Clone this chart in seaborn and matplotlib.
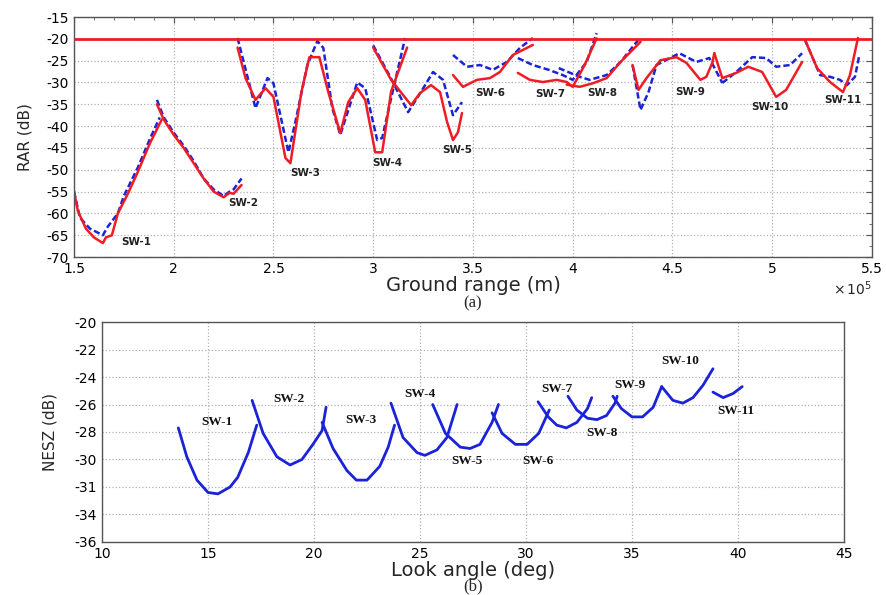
import numpy as np
import pandas as pd
import matplotlib
matplotlib.use("Agg")
import matplotlib.pyplot as plt
import seaborn as sns
from matplotlib.ticker import FuncFormatter, AutoMinorLocator

# ---- panel (a): RAR vs ground range (x in units of 1e5 m) ----
rar_red = {
    "SW-1": ([1.50, 1.52, 1.56, 1.60, 1.645, 1.66, 1.69, 1.72, 1.77, 1.82, 1.88, 1.94],
             [-55, -59.5, -63.5, -65.5, -66.8, -65.5, -65, -60, -55.5, -50.5, -44, -38.5]),
    "SW-2": ([1.916, 1.95, 2.0, 2.05, 2.10, 2.15, 2.20, 2.25, 2.28, 2.30, 2.34],
             [-35, -38.5, -42, -45, -48.5, -52, -55, -56.3, -55.3, -55.5, -53.5]),
    "SW-3": ([2.32, 2.36, 2.41, 2.46, 2.50, 2.56, 2.585, 2.64, 2.68, 2.73, 2.775, 2.835,
              2.875, 2.92, 2.96, 3.01, 3.045, 3.09, 3.17],
             [-22, -29, -34, -31.3, -33.3, -47.3, -48.5, -32.2, -24.2, -24.2, -32.2, -41.6,
              -34.5, -31.3, -34, -46, -46, -32, -22]),
    "SW-4": ([3.0, 3.09, 3.19, 3.235, 3.29, 3.335, 3.37, 3.40, 3.425, 3.445],
             [-22, -29.4, -35.2, -32.4, -30.6, -32.2, -39, -43.2, -41.4, -37]),
    "SW-6": ([3.40, 3.45, 3.52, 3.585, 3.635, 3.70, 3.80],
             [-28.3, -31, -29.4, -29, -27.6, -23.7, -21.4]),
    "SW-7": ([3.725, 3.785, 3.85, 3.92, 3.97, 4.0, 4.06, 4.12],
             [-27.8, -29.4, -29.9, -29.4, -29.9, -31, -26, -19.9]),
    "SW-8": ([3.97, 4.035, 4.10, 4.17, 4.24, 4.34],
             [-30.5, -31, -30.2, -29, -25.3, -20.7]),
    "SW-9": ([4.30, 4.33, 4.37, 4.44, 4.52, 4.57, 4.64, 4.67, 4.70, 4.71],
             [-26, -31.7, -29, -24.9, -24.2, -25.5, -29.4, -28.7, -25.5, -23.3]),
    "SW-10": ([4.71, 4.75, 4.82, 4.88, 4.95, 5.0, 5.02, 5.07, 5.15],
              [-23.3, -29, -27.8, -26.4, -27.6, -31.7, -33.3, -31.7, -25.3]),
    "SW-11": ([5.165, 5.225, 5.29, 5.355, 5.39, 5.43],
              [-20.3, -26.7, -29.9, -32.2, -28.3, -19.8]),
}
rar_blue = {
    "SW-1": ([1.50, 1.53, 1.58, 1.645, 1.67, 1.72, 1.75, 1.82, 1.88, 1.93],
             [-55, -61, -63.5, -65, -63, -60, -56, -49.5, -43, -38]),
    "SW-2": ([1.916, 1.95, 2.0, 2.05, 2.10, 2.15, 2.20, 2.25, 2.28, 2.30, 2.34],
             [-34, -38, -41.5, -44.5, -48, -52, -54.5, -56, -55, -54.5, -52]),
    "SW-3": ([2.32, 2.41, 2.47, 2.50, 2.575, 2.61, 2.67, 2.72, 2.75, 2.795, 2.835,
              2.92, 2.96, 3.02, 3.045, 3.09, 3.16],
             [-19.8, -35.9, -29, -30.2, -46, -39, -26, -20.5, -22.1, -35.9, -42,
              -30, -31.3, -43.2, -42.7, -33.6, -19.8]),
    "SW-4": ([3.0, 3.085, 3.175, 3.235, 3.30, 3.35, 3.40, 3.445],
             [-21.5, -28.7, -36.8, -32.5, -27.6, -29.4, -37.5, -34.5]),
    "SW-6": ([3.40, 3.47, 3.535, 3.60, 3.67, 3.735, 3.80],
             [-23.7, -26.4, -26, -27.1, -25.3, -22.1, -19.8]),
    "SW-7": ([3.725, 3.80, 3.88, 3.95, 4.0, 4.07, 4.12],
             [-24.4, -26, -27.1, -28.3, -29.4, -25.3, -18.7]),
    "SW-8": ([3.93, 4.035, 4.085, 4.17, 4.24, 4.34],
             [-26.7, -28.7, -29.4, -28.3, -25.3, -19.6]),
    "SW-9": ([4.30, 4.34, 4.38, 4.42, 4.535, 4.62, 4.685, 4.75],
             [-26, -36.3, -32.2, -26, -23.3, -25.3, -24.4, -30.1]),
    "SW-10": ([4.75, 4.82, 4.90, 4.97, 5.02, 5.09, 5.15],
              [-30.1, -27.6, -24.2, -24.4, -26.4, -26, -23.3]),
    "SW-11": ([5.165, 5.24, 5.29, 5.34, 5.375, 5.415, 5.435],
              [-20.3, -28.3, -28.7, -29.4, -30.6, -28.7, -24.2]),
}
rar_labels = ["SW-1", "SW-2", "SW-3", "SW-4", "SW-5", "SW-6", "SW-7", "SW-8", "SW-9", "SW-10", "SW-11"]
rar_label_x = [1.81, 2.35, 2.66, 3.07, 3.42, 3.585, 3.886, 4.146, 4.59, 4.99, 5.355]
rar_label_y = [-66.6, -57.6, -50.8, -48.5, -45.5, -32.4, -32.7, -32.4, -32.2, -35.6, -34]
rar_limit = -20

# ---- panel (b): NESZ vs look angle ----
nesz = {
    "SW-1": ([13.6, 14.0, 14.48, 15.0, 15.47, 16.04, 16.4, 16.9, 17.3],
             [-27.7, -29.8, -31.5, -32.4, -32.5, -32.0, -31.3, -29.5, -27.5]),
    "SW-2": ([17.08, 17.6, 18.25, 18.87, 19.43, 19.95, 20.38, 20.57],
             [-25.7, -28.1, -29.8, -30.4, -30.0, -28.9, -27.9, -26.2]),
    "SW-3": ([20.38, 20.9, 21.55, 22.0, 22.5, 23.1, 23.5, 23.8],
             [-27.3, -29.2, -30.8, -31.5, -31.5, -30.5, -29.1, -27.5]),
    "SW-4": ([23.63, 24.2, 24.86, 25.23, 25.8, 26.27, 26.75],
             [-25.9, -28.4, -29.5, -29.7, -29.3, -28.4, -26.0]),
    "SW-5": ([25.6, 26.2, 26.9, 27.36, 27.83, 28.4, 28.7],
             [-26.0, -28.1, -29.1, -29.2, -28.9, -27.3, -26.0]),
    "SW-6": ([28.4, 28.87, 29.5, 30.05, 30.6, 31.1],
             [-26.6, -28.1, -28.9, -28.9, -28.1, -26.4]),
    "SW-7": ([30.57, 31.05, 31.45, 31.9, 32.4, 32.9, 33.1],
             [-25.8, -26.9, -27.5, -27.7, -27.3, -26.3, -25.5]),
    "SW-8": ([31.98, 32.4, 32.9, 33.35, 33.8, 34.2, 34.3],
             [-25.4, -26.4, -27.0, -27.1, -26.8, -25.9, -25.4]),
    "SW-9": ([34.1, 34.5, 35.0, 35.5, 36.0, 36.4],
             [-25.4, -26.3, -26.9, -26.9, -26.2, -24.7]),
    "SW-10": ([36.4, 36.93, 37.4, 37.88, 38.35, 38.82],
              [-24.7, -25.7, -25.9, -25.5, -24.6, -23.4]),
    "SW-11": ([38.82, 39.3, 39.77, 40.2],
              [-25.1, -25.5, -25.2, -24.7]),
}
nesz_label_x = [15.4, 18.8, 22.2, 25.0, 27.2, 30.57, 31.45, 33.6, 34.9, 37.3, 39.9]
nesz_label_y = [-27.3, -25.6, -27.1, -25.2, -30.1, -30.1, -24.9, -28.1, -24.6, -22.8, -26.5]
nesz_yticks = [-36, -34, -32, -30, -28, -26, -24, -22, -20]
nesz_yticklabels = ["-36", "-34", "-31", "-30", "-28", "-26", "-24", "-22", "-20"]

sns.set_style("white")
plt.rcParams["font.family"] = ["DejaVu Sans"]
plt.rcParams["axes.unicode_minus"] = False

RED = "#f01c24"
BLUE = "#1a23d8"
GRID = "#b0b0b0"
serif = ["Liberation Serif", "DejaVu Serif"]

fig = plt.figure(figsize=(8.87, 5.95), dpi=100)
ax1 = fig.add_axes([0.0834, 0.568, 0.8996, 0.4034])
ax2 = fig.add_axes([0.115, 0.0891, 0.8365, 0.3697])


def style_axes(ax):
    for sp in ax.spines.values():
        sp.set_color("#555555")
        sp.set_linewidth(1.0)
    ax.tick_params(which="both", direction="in", top=True, right=True,
                   colors="#555555", labelcolor="black", labelsize=10)
    ax.tick_params(which="major", length=4)
    ax.tick_params(which="minor", length=2)
    ax.grid(True, which="major", linestyle=":", color=GRID, linewidth=0.9)


# panel (a)
for name, (xs, ys) in rar_blue.items():
    sns.lineplot(x=np.array(xs) * 1e5, y=ys, ax=ax1, color=BLUE, sort=False,
                 estimator=None, linewidth=1.8, linestyle=(0, (2.5, 1.2)))
for name, (xs, ys) in rar_red.items():
    sns.lineplot(x=np.array(xs) * 1e5, y=ys, ax=ax1, color=RED, sort=False,
                 estimator=None, linewidth=1.8)
ax1.axhline(rar_limit, color=RED, linewidth=2.0)
for lab, lx, ly in zip(rar_labels, rar_label_x, rar_label_y):
    ax1.text(lx * 1e5, ly, lab, ha="center", va="center", fontsize=7.5,
             fontweight="bold", color="#222222")

ax1.set_xlim(1.5e5, 5.5e5)
ax1.set_ylim(-70, -15)
ax1.set_xticks(np.arange(1.5e5, 5.51e5, 0.5e5))
ax1.set_yticks(np.arange(-70, -14, 5))
ax1.xaxis.set_major_formatter(FuncFormatter(lambda v, p: f"{v / 1e5:g}"))
ax1.xaxis.set_minor_locator(AutoMinorLocator(5))
ax1.yaxis.set_minor_locator(AutoMinorLocator(2))
style_axes(ax1)
ax1.set_xlabel("Ground range (m)", fontsize=14, labelpad=0)
ax1.set_ylabel("RAR (dB)", fontsize=11, labelpad=10)
ax1.text(1.0, -0.13, r"$\times\,10^5$", transform=ax1.transAxes, ha="right",
         va="center", fontsize=10)

# panel (b)
for name, (xs, ys) in nesz.items():
    sns.lineplot(x=xs, y=ys, ax=ax2, color=BLUE, sort=False, estimator=None, linewidth=2.0)
for lab, lx, ly in zip(rar_labels, nesz_label_x, nesz_label_y):
    ax2.text(lx, ly, lab, ha="center", va="center", fontsize=9.5, fontweight="bold",
             family=serif, color="#111111")

ax2.set_xlim(10, 45)
ax2.set_ylim(-36, -20)
ax2.set_xticks(np.arange(10, 46, 5))
ax2.set_yticks(nesz_yticks)
ax2.set_yticklabels(nesz_yticklabels)
style_axes(ax2)
ax2.tick_params(which="both", top=False, right=False, length=0)
ax2.set_xlabel("Look angle (deg)", fontsize=14, labelpad=0)
ax2.set_ylabel("NESZ (dB)", fontsize=11, labelpad=12)

fig.text(0.533, 0.490, "(a)", ha="center", va="center", fontsize=12, family=serif)
fig.text(0.533, 0.014, "(b)", ha="center", va="center", fontsize=12, family=serif)

fig.savefig("out.png", dpi=100)
